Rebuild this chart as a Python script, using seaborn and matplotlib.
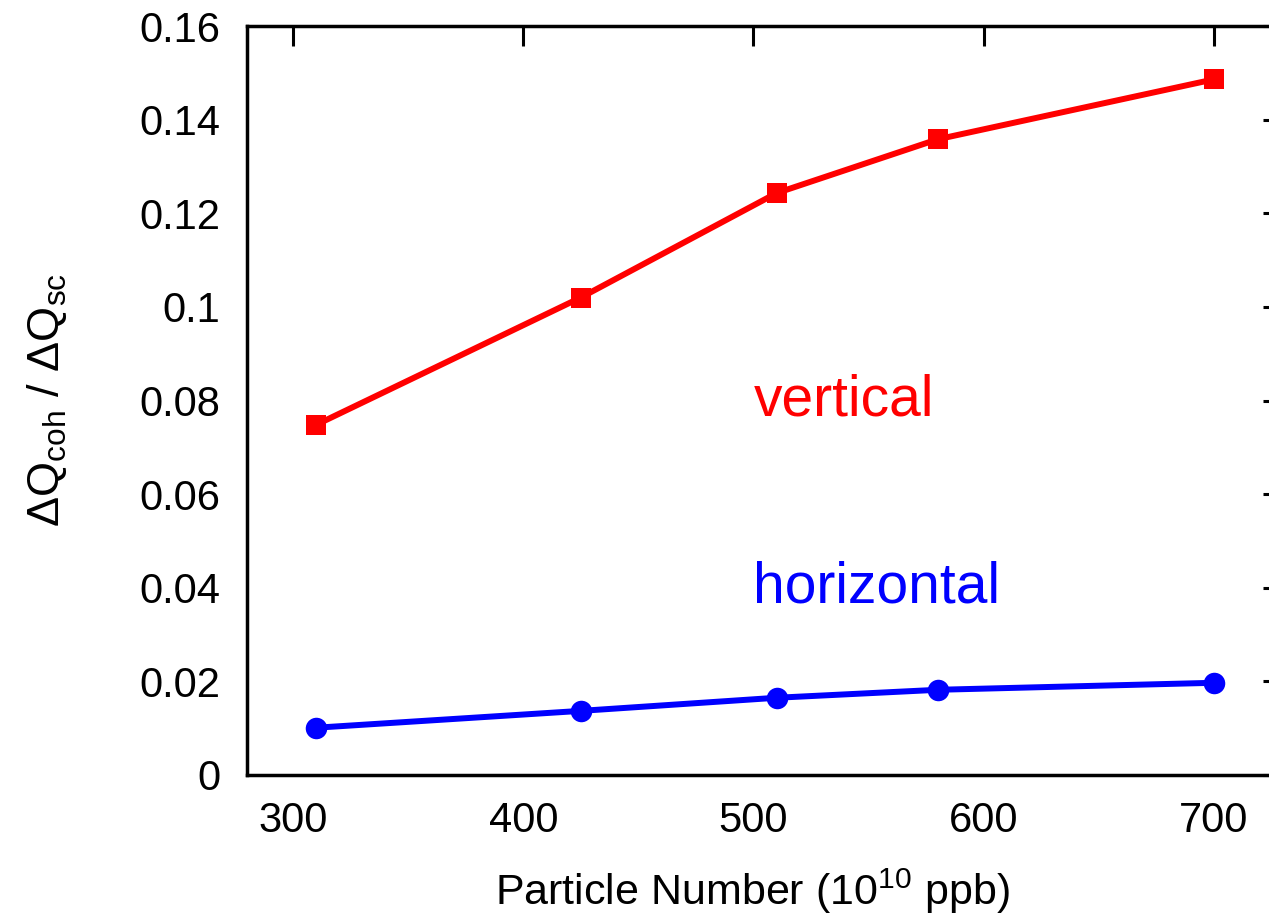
import matplotlib
matplotlib.use("Agg")
import matplotlib.pyplot as plt
import seaborn as sns
import pandas as pd

# Data
particle_number = [310, 425, 510, 580, 700]
vertical = [0.0748, 0.1020, 0.1243, 0.1358, 0.1486]
horizontal = [0.0101, 0.0137, 0.0165, 0.0182, 0.0197]
x_ticks = [300, 400, 500, 600, 700]
y_ticks = [0, 0.02, 0.04, 0.06, 0.08, 0.1, 0.12, 0.14, 0.16]
y_tick_labels = ["0", "0.02", "0.04", "0.06", "0.08", "0.1", "0.12", "0.14", "0.16"]

sns.set_style("white")
plt.rcParams["font.family"] = ["Liberation Sans", "DejaVu Sans"]
plt.rcParams["mathtext.fontset"] = "custom"
plt.rcParams["mathtext.rm"] = "Liberation Sans"
plt.rcParams["mathtext.it"] = "Liberation Sans"
plt.rcParams["text.color"] = "black"
plt.rcParams["axes.labelcolor"] = "black"

df_v = pd.DataFrame({"x": particle_number, "y": vertical})
df_h = pd.DataFrame({"x": particle_number, "y": horizontal})

fig = plt.figure(figsize=(12.69, 9.19), dpi=100)
ax = fig.add_axes([247 / 1269, (919 - 775) / 919, (1283 - 247) / 1269, (775 - 26) / 919])

sns.lineplot(data=df_v, x="x", y="y", ax=ax, color="#ff0000", linewidth=4.3,
             marker="s", markersize=15, markeredgewidth=0, estimator=None)
sns.lineplot(data=df_h, x="x", y="y", ax=ax, color="#0000ff", linewidth=4.3,
             marker="o", markersize=15.5, markeredgewidth=0, estimator=None)

ax.set_xlim(280, 730)
ax.set_ylim(0, 0.16)
ax.set_xticks(x_ticks)
ax.set_yticks(y_ticks)
ax.set_yticklabels(y_tick_labels)

for s in ax.spines.values():
    s.set_visible(True)
    s.set_linewidth(2.5)
    s.set_color("black")

ax.tick_params(axis="both", which="major", direction="in", length=14.5, width=2.2,
               labelsize=30, top=True, right=True, color="black", labelcolor="black")
ax.tick_params(axis="x", pad=19)
ax.tick_params(axis="y", pad=19)

ax.set_xlabel("Particle Number (10$^{10}$ ppb)", fontsize=31)
ax.set_ylabel("ΔQ$_{\\mathrm{coh}}$ / ΔQ$_{\\mathrm{sc}}$", fontsize=32.5)
ax.xaxis.set_label_coords(0.488, -0.122)
ax.yaxis.set_label_coords(-0.172, 0.5)

ax.text(500, 0.0801, "vertical", color="#ff0000", fontsize=41, ha="left", va="center")
ax.text(500, 0.0400, "horizontal", color="#0000ff", fontsize=41, ha="left", va="center")

fig.savefig("out.png", dpi=100)
